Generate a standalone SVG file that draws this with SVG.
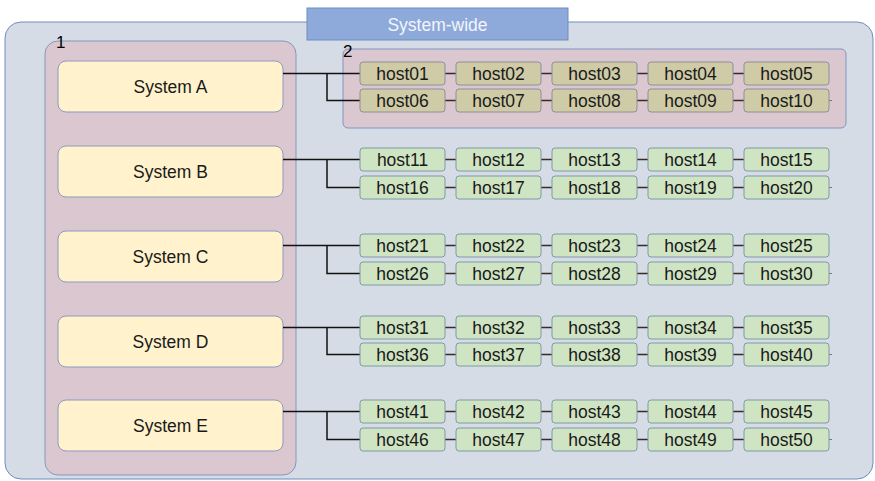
<svg xmlns="http://www.w3.org/2000/svg" width="875" height="481" viewBox="0 0 875 481">
<style>
text{font-family:"Liberation Sans",Arial,sans-serif;font-size:17.5px;fill:#1a1a1a;text-anchor:middle}
.sys{fill:#fff2cc;stroke:#8a9bbd;stroke-width:1}
.hg{fill:#cfe4c2;stroke:#7f9aa8;stroke-width:1}
.hy{fill:#cfcba6;stroke:#8f8f98;stroke-width:1}
.c{stroke:#111;stroke-width:1.5;fill:none}
.hc{stroke:#3a2a2a;stroke-width:1.5;fill:none}
.stub{stroke:#777;stroke-width:1;fill:none}
.lbl{text-anchor:start;font-size:17px;fill:#000}
</style>
<rect width="875" height="481" fill="#ffffff"/>
<g id="system-wide">
<rect x="5" y="22" width="868" height="457" rx="16" fill="#d6dce5" stroke="#6c8ebf" stroke-width="1"/>
<rect x="307" y="8" width="261" height="32" fill="#8eaadb" stroke="#6c8ebf" stroke-width="1"/>
<text x="437.5" y="31" style="fill:#f2f5fb">System-wide</text>
</g>
<g id="group1">
<rect x="45" y="41" width="251" height="434" rx="13" fill="#dbc7d0" stroke="#8597c0" stroke-width="1"/>
<text class="lbl" x="56" y="48">1</text>
</g>
<g id="group2">
<rect x="343" y="49" width="503" height="79" rx="5" fill="#dbc7d0" stroke="#7f95c4" stroke-width="1"/>
<text class="lbl" x="343" y="57">2</text>
</g>
<g id="systemA"><rect class="sys" x="58" y="61" width="225" height="51" rx="8"/><text x="170.5" y="93">System A</text></g>
<g id="systemB"><rect class="sys" x="58" y="146" width="225" height="51" rx="8"/><text x="170.5" y="178">System B</text></g>
<g id="systemC"><rect class="sys" x="58" y="231" width="225" height="51" rx="8"/><text x="170.5" y="263">System C</text></g>
<g id="systemD"><rect class="sys" x="58" y="316" width="225" height="51" rx="8"/><text x="170.5" y="348">System D</text></g>
<g id="systemE"><rect class="sys" x="58" y="400" width="225" height="51" rx="8"/><text x="170.5" y="432">System E</text></g>
<g id="connectors">
<path class="c" d="M283 73.5H360M327 73.5V100.5H360"/>
<path class="c" d="M283 159.5H360M327 159.5V187.5H360"/>
<path class="c" d="M283 245.5H360M327 245.5V273.5H360"/>
<path class="c" d="M283 327.5H360M327 327.5V354.5H360"/>
<path class="c" d="M283 411.5H360M327 411.5V439.5H360"/>
<path class="hc" d="M445 73.5H456M541 73.5H552M637 73.5H648M733 73.5H744M445 100.5H456M541 100.5H552M637 100.5H648M733 100.5H744"/>
<path class="hc" d="M445 159.5H456M541 159.5H552M637 159.5H648M733 159.5H744M445 187.5H456M541 187.5H552M637 187.5H648M733 187.5H744"/>
<path class="hc" d="M445 245.5H456M541 245.5H552M637 245.5H648M733 245.5H744M445 273.5H456M541 273.5H552M637 273.5H648M733 273.5H744"/>
<path class="hc" d="M445 327.5H456M541 327.5H552M637 327.5H648M733 327.5H744M445 354.5H456M541 354.5H552M637 354.5H648M733 354.5H744"/>
<path class="hc" d="M445 411.5H456M541 411.5H552M637 411.5H648M733 411.5H744M445 439.5H456M541 439.5H552M637 439.5H648M733 439.5H744"/>
<path class="stub" d="M829 100.5H832M829 187.5H832M829 273.5H832M829 354.5H832M829 439.5H832"/>
</g>
<g id="host01"><rect class="hy" x="360" y="62" width="85" height="23" rx="3"/><text x="402.5" y="80">host01</text></g>
<g id="host02"><rect class="hy" x="456" y="62" width="85" height="23" rx="3"/><text x="498.5" y="80">host02</text></g>
<g id="host03"><rect class="hy" x="552" y="62" width="85" height="23" rx="3"/><text x="594.5" y="80">host03</text></g>
<g id="host04"><rect class="hy" x="648" y="62" width="85" height="23" rx="3"/><text x="690.5" y="80">host04</text></g>
<g id="host05"><rect class="hy" x="744" y="62" width="85" height="23" rx="3"/><text x="786.5" y="80">host05</text></g>
<g id="host06"><rect class="hy" x="360" y="89" width="85" height="23" rx="3"/><text x="402.5" y="107">host06</text></g>
<g id="host07"><rect class="hy" x="456" y="89" width="85" height="23" rx="3"/><text x="498.5" y="107">host07</text></g>
<g id="host08"><rect class="hy" x="552" y="89" width="85" height="23" rx="3"/><text x="594.5" y="107">host08</text></g>
<g id="host09"><rect class="hy" x="648" y="89" width="85" height="23" rx="3"/><text x="690.5" y="107">host09</text></g>
<g id="host10"><rect class="hy" x="744" y="89" width="85" height="23" rx="3"/><text x="786.5" y="107">host10</text></g>
<g id="host11"><rect class="hg" x="360" y="148" width="85" height="23" rx="3"/><text x="402.5" y="166">host11</text></g>
<g id="host12"><rect class="hg" x="456" y="148" width="85" height="23" rx="3"/><text x="498.5" y="166">host12</text></g>
<g id="host13"><rect class="hg" x="552" y="148" width="85" height="23" rx="3"/><text x="594.5" y="166">host13</text></g>
<g id="host14"><rect class="hg" x="648" y="148" width="85" height="23" rx="3"/><text x="690.5" y="166">host14</text></g>
<g id="host15"><rect class="hg" x="744" y="148" width="85" height="23" rx="3"/><text x="786.5" y="166">host15</text></g>
<g id="host16"><rect class="hg" x="360" y="176" width="85" height="23" rx="3"/><text x="402.5" y="194">host16</text></g>
<g id="host17"><rect class="hg" x="456" y="176" width="85" height="23" rx="3"/><text x="498.5" y="194">host17</text></g>
<g id="host18"><rect class="hg" x="552" y="176" width="85" height="23" rx="3"/><text x="594.5" y="194">host18</text></g>
<g id="host19"><rect class="hg" x="648" y="176" width="85" height="23" rx="3"/><text x="690.5" y="194">host19</text></g>
<g id="host20"><rect class="hg" x="744" y="176" width="85" height="23" rx="3"/><text x="786.5" y="194">host20</text></g>
<g id="host21"><rect class="hg" x="360" y="234" width="85" height="23" rx="3"/><text x="402.5" y="252">host21</text></g>
<g id="host22"><rect class="hg" x="456" y="234" width="85" height="23" rx="3"/><text x="498.5" y="252">host22</text></g>
<g id="host23"><rect class="hg" x="552" y="234" width="85" height="23" rx="3"/><text x="594.5" y="252">host23</text></g>
<g id="host24"><rect class="hg" x="648" y="234" width="85" height="23" rx="3"/><text x="690.5" y="252">host24</text></g>
<g id="host25"><rect class="hg" x="744" y="234" width="85" height="23" rx="3"/><text x="786.5" y="252">host25</text></g>
<g id="host26"><rect class="hg" x="360" y="262" width="85" height="23" rx="3"/><text x="402.5" y="280">host26</text></g>
<g id="host27"><rect class="hg" x="456" y="262" width="85" height="23" rx="3"/><text x="498.5" y="280">host27</text></g>
<g id="host28"><rect class="hg" x="552" y="262" width="85" height="23" rx="3"/><text x="594.5" y="280">host28</text></g>
<g id="host29"><rect class="hg" x="648" y="262" width="85" height="23" rx="3"/><text x="690.5" y="280">host29</text></g>
<g id="host30"><rect class="hg" x="744" y="262" width="85" height="23" rx="3"/><text x="786.5" y="280">host30</text></g>
<g id="host31"><rect class="hg" x="360" y="316" width="85" height="23" rx="3"/><text x="402.5" y="334">host31</text></g>
<g id="host32"><rect class="hg" x="456" y="316" width="85" height="23" rx="3"/><text x="498.5" y="334">host32</text></g>
<g id="host33"><rect class="hg" x="552" y="316" width="85" height="23" rx="3"/><text x="594.5" y="334">host33</text></g>
<g id="host34"><rect class="hg" x="648" y="316" width="85" height="23" rx="3"/><text x="690.5" y="334">host34</text></g>
<g id="host35"><rect class="hg" x="744" y="316" width="85" height="23" rx="3"/><text x="786.5" y="334">host35</text></g>
<g id="host36"><rect class="hg" x="360" y="343" width="85" height="23" rx="3"/><text x="402.5" y="361">host36</text></g>
<g id="host37"><rect class="hg" x="456" y="343" width="85" height="23" rx="3"/><text x="498.5" y="361">host37</text></g>
<g id="host38"><rect class="hg" x="552" y="343" width="85" height="23" rx="3"/><text x="594.5" y="361">host38</text></g>
<g id="host39"><rect class="hg" x="648" y="343" width="85" height="23" rx="3"/><text x="690.5" y="361">host39</text></g>
<g id="host40"><rect class="hg" x="744" y="343" width="85" height="23" rx="3"/><text x="786.5" y="361">host40</text></g>
<g id="host41"><rect class="hg" x="360" y="400" width="85" height="23" rx="3"/><text x="402.5" y="418">host41</text></g>
<g id="host42"><rect class="hg" x="456" y="400" width="85" height="23" rx="3"/><text x="498.5" y="418">host42</text></g>
<g id="host43"><rect class="hg" x="552" y="400" width="85" height="23" rx="3"/><text x="594.5" y="418">host43</text></g>
<g id="host44"><rect class="hg" x="648" y="400" width="85" height="23" rx="3"/><text x="690.5" y="418">host44</text></g>
<g id="host45"><rect class="hg" x="744" y="400" width="85" height="23" rx="3"/><text x="786.5" y="418">host45</text></g>
<g id="host46"><rect class="hg" x="360" y="428" width="85" height="23" rx="3"/><text x="402.5" y="446">host46</text></g>
<g id="host47"><rect class="hg" x="456" y="428" width="85" height="23" rx="3"/><text x="498.5" y="446">host47</text></g>
<g id="host48"><rect class="hg" x="552" y="428" width="85" height="23" rx="3"/><text x="594.5" y="446">host48</text></g>
<g id="host49"><rect class="hg" x="648" y="428" width="85" height="23" rx="3"/><text x="690.5" y="446">host49</text></g>
<g id="host50"><rect class="hg" x="744" y="428" width="85" height="23" rx="3"/><text x="786.5" y="446">host50</text></g>
</svg>
